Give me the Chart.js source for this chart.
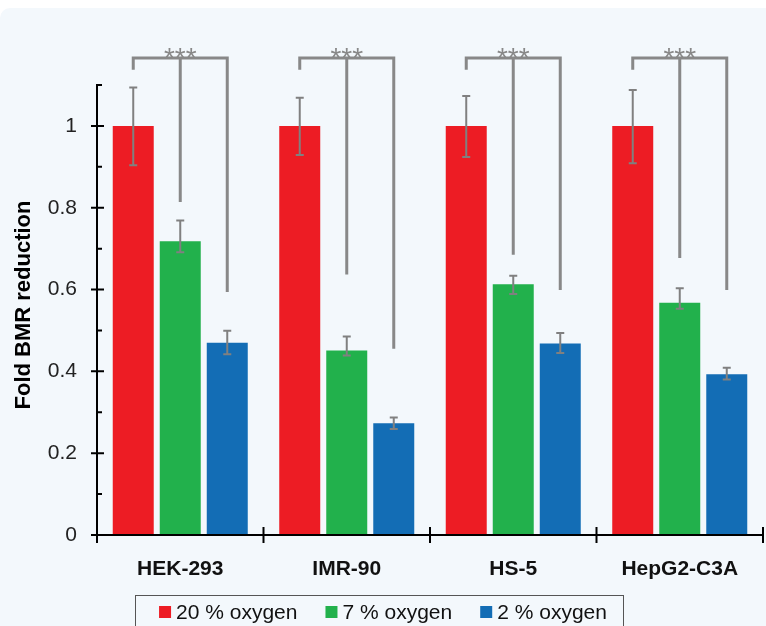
<!DOCTYPE html>
<html>
<head>
<meta charset="utf-8">
<script src="https://cdn.jsdelivr.net/npm/chart.js@4.4.1/dist/chart.umd.min.js"></script>
<style>
  html, body { margin: 0; padding: 0; background: #fff; }
  #wrap { width: 766px; height: 626px; }
</style>
</head>
<body>
<div id="wrap"><canvas id="bmrChart" width="766" height="626"></canvas></div>
<script>
// datos
const cellLines = ['HEK-293', 'IMR-90', 'HS-5', 'HepG2-C3A'];
const seriesNames = ['20 % oxygen', '7 % oxygen', '2 % oxygen'];
const oxy20 = [1, 1, 1, 1];
const oxy7 = [0.718, 0.451, 0.613, 0.568];
const oxy2 = [0.470, 0.273, 0.468, 0.393];
// barras de error (arriba / abajo)
const oxy20ErrUp = [0.094, 0.069, 0.073, 0.088];
const oxy20ErrDown = [0.096, 0.071, 0.076, 0.091];
const oxy7ErrUp = [0.051, 0.034, 0.021, 0.035];
const oxy7ErrDown = [0.027, 0.012, 0.024, 0.015];
const oxy2ErrUp = [0.029, 0.014, 0.026, 0.016];
const oxy2ErrDown = [0.028, 0.014, 0.023, 0.013];
// corchetes de significancia
const bracketTop = 1.166;
const bracketLeftEnd = 1.137;
const bracketMidEnd = [0.814, 0.637, 0.685, 0.677];
const bracketRightEnd = [0.594, 0.455, 0.599, 0.599];
const sigLabels = ['***', '***', '***', '***'];
const yTickValues = [0, 0.1, 0.2, 0.3, 0.4, 0.5, 0.6, 0.7, 0.8, 0.9, 1, 1.1];

const RED = '#ed1c24';
const GREEN = '#22b14c';
const BLUE = '#136db5';
const GREY = '#888888';
const PANEL = '#f3f8fc';
const FONT = '"Liberation Sans", Arial, Helvetica, sans-serif';

const errUp = [oxy20ErrUp, oxy7ErrUp, oxy2ErrUp];
const errDown = [oxy20ErrDown, oxy7ErrDown, oxy2ErrDown];

const panelPlugin = {
  id: 'panel',
  beforeDraw(chart) {
    const ctx = chart.ctx;
    ctx.save();
    ctx.fillStyle = '#ffffff';
    ctx.fillRect(0, 0, chart.width, chart.height);
    ctx.fillStyle = PANEL;
    ctx.beginPath();
    ctx.roundRect(0, 8, chart.width + 20, chart.height + 20, 10);
    ctx.fill();
    ctx.restore();
  }
};

const extrasPlugin = {
  id: 'extras',
  afterDatasetsDraw(chart) {
    const ctx = chart.ctx;
    const y = chart.scales.y;
    const x = chart.scales.x;
    const area = chart.chartArea;
    ctx.save();

    // barras de error
    ctx.strokeStyle = '#808080';
    ctx.lineWidth = 2;
    chart.data.datasets.forEach((ds, d) => {
      const meta = chart.getDatasetMeta(d);
      meta.data.forEach((bar, i) => {
        const v = ds.data[i];
        const yt = y.getPixelForValue(v + errUp[d][i]);
        const yb = y.getPixelForValue(v - errDown[d][i]);
        ctx.beginPath();
        ctx.moveTo(bar.x, yt); ctx.lineTo(bar.x, yb);
        ctx.moveTo(bar.x - 4, yt); ctx.lineTo(bar.x + 4, yt);
        ctx.moveTo(bar.x - 4, yb); ctx.lineTo(bar.x + 4, yb);
        ctx.stroke();
      });
    });

    // corchetes ***
    ctx.strokeStyle = GREY;
    ctx.lineWidth = 3;
    const m0 = chart.getDatasetMeta(0).data;
    const m1 = chart.getDatasetMeta(1).data;
    const m2 = chart.getDatasetMeta(2).data;
    cellLines.forEach((c, i) => {
      const yTop = y.getPixelForValue(bracketTop);
      ctx.beginPath();
      ctx.moveTo(m0[i].x, y.getPixelForValue(bracketLeftEnd));
      ctx.lineTo(m0[i].x, yTop);
      ctx.lineTo(m2[i].x, yTop);
      ctx.lineTo(m2[i].x, y.getPixelForValue(bracketRightEnd[i]));
      ctx.moveTo(m1[i].x, yTop);
      ctx.lineTo(m1[i].x, y.getPixelForValue(bracketMidEnd[i]));
      ctx.stroke();
      ctx.fillStyle = GREY;
      ctx.font = '28px ' + FONT;
      ctx.textAlign = 'center';
      ctx.textBaseline = 'alphabetic';
      ctx.fillText(sigLabels[i], m1[i].x, yTop + 9);
    });

    // ejes
    ctx.strokeStyle = '#000';
    ctx.lineWidth = 2;
    const x0 = area.left;
    const yZero = y.getPixelForValue(0);
    ctx.beginPath();
    ctx.moveTo(x0, yZero);
    ctx.lineTo(x0, y.getPixelForValue(yTickValues[yTickValues.length - 1]) - 1);
    ctx.moveTo(x0, yZero);
    ctx.lineTo(area.right, yZero);
    yTickValues.forEach((v) => {
      const py = y.getPixelForValue(v);
      const major = Math.round(v * 10) % 2 === 0;
      if (major) { ctx.moveTo(x0 - 6, py); ctx.lineTo(x0 + 7, py); }
      else { ctx.moveTo(x0, py); ctx.lineTo(x0 + 5, py); }
    });
    for (let i = 0; i <= cellLines.length; i++) {
      const px = i === 0 ? area.left : i === cellLines.length ? area.right
        : (x.getPixelForValue(i - 1) + x.getPixelForValue(i)) / 2;
      ctx.moveTo(px, yZero - 8); ctx.lineTo(px, yZero + 8);
    }
    ctx.stroke();

    // titulo eje y
    ctx.save();
    ctx.translate(24, (area.top + yZero) / 2 - 5);
    ctx.rotate(-Math.PI / 2);
    ctx.fillStyle = '#000';
    ctx.font = 'bold 22px ' + FONT;
    ctx.textAlign = 'center';
    ctx.textBaseline = 'middle';
    ctx.fillText('Fold BMR reduction', 0, 0);
    ctx.restore();

    // leyenda con marco
    const boxL = 135, boxR = 623, boxT = 595;
    ctx.fillStyle = PANEL;
    ctx.fillRect(boxL, boxT, boxR - boxL, 40);
    ctx.strokeStyle = '#555';
    ctx.lineWidth = 1;
    ctx.strokeRect(boxL + 0.5, boxT + 0.5, boxR - boxL, 40);
    ctx.font = '21px ' + FONT;
    ctx.textAlign = 'left';
    ctx.textBaseline = 'alphabetic';
    const sq = 12, gapSq = 5, gapItem = 28;
    const widths = seriesNames.map((s) => ctx.measureText(s).width);
    let total = widths.reduce((a, b) => a + b, 0) + 3 * (sq + gapSq) + 2 * gapItem;
    let lx = 383 - total / 2;
    chart.data.datasets.forEach((ds, d) => {
      ctx.fillStyle = ds.backgroundColor;
      ctx.fillRect(lx, 606, sq, sq);
      ctx.fillStyle = '#111';
      ctx.fillText(seriesNames[d], lx + sq + gapSq, 619);
      lx += sq + gapSq + widths[d] + gapItem;
    });

    ctx.restore();
  }
};

const ctx = document.getElementById('bmrChart').getContext('2d');
new Chart(ctx, {
  type: 'bar',
  data: {
    labels: cellLines,
    datasets: [
      { label: seriesNames[0], data: oxy20, backgroundColor: RED },
      { label: seriesNames[1], data: oxy7, backgroundColor: GREEN },
      { label: seriesNames[2], data: oxy2, backgroundColor: BLUE }
    ]
  },
  options: {
    responsive: false,
    animation: false,
    categoryPercentage: 0.847,
    barPercentage: 0.872,
    layout: { padding: { top: 85, right: 3, left: 0, bottom: 0 } },
    plugins: {
      legend: { display: false },
      tooltip: { enabled: false }
    },
    scales: {
      x: {
        grid: { display: false, drawTicks: false },
        border: { display: false },
        ticks: {
          color: '#111',
          padding: 22,
          font: { family: FONT, size: 21, weight: 'bold' }
        },
        afterFit(scale) { scale.height = 91; }
      },
      y: {
        min: 0,
        max: 1.1,
        grid: { display: false, drawTicks: false },
        border: { display: false },
        afterBuildTicks(scale) {
          scale.ticks = yTickValues.map((v) => ({ value: v }));
        },
        ticks: {
          color: '#222',
          padding: 20,
          font: { family: FONT, size: 21 },
          callback(v) {
            return Math.round(v * 10) % 2 === 0 ? String(Math.round(v * 10) / 10) : '';
          }
        },
        afterFit(scale) { scale.width = 97; }
      }
    }
  },
  plugins: [panelPlugin, extrasPlugin]
});
</script>
</body>
</html>
